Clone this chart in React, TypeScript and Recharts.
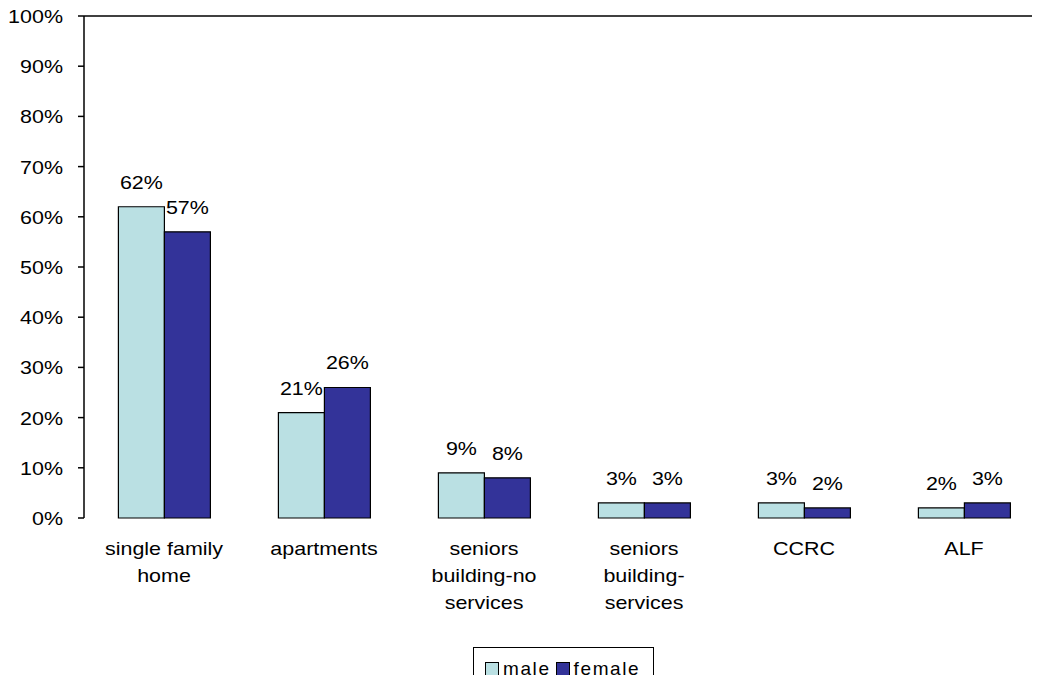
import React from "react";
import { BarChart, Bar, XAxis, YAxis, ReferenceLine, LabelList, Legend } from "recharts";

const categories = [
  "single family home",
  "apartments",
  "seniors building-no services",
  "seniors building-services",
  "CCRC",
  "ALF",
];
const categoryLines = [
  ["single family", "home"],
  ["apartments"],
  ["seniors", "building-no", "services"],
  ["seniors", "building-", "services"],
  ["CCRC"],
  ["ALF"],
];
const male = [62, 21, 9, 3, 3, 2];
const female = [57, 26, 8, 3, 2, 3];
const yTicks = [0, 10, 20, 30, 40, 50, 60, 70, 80, 90, 100];
const boundaryTicks = [0, 1, 2, 3, 4, 5, 6];

const data = categories.map((name, i) => ({ name, male: male[i], female: female[i], idx: i }));

const FONT = "'Liberation Sans', Arial, sans-serif";
const FS = 19;
const SX = 1.13;

const MALE_COLOR = "#BAE0E3";
const FEMALE_COLOR = "#333399";

const StretchText = ({ x, y, anchor, children }: any) => (
  <g transform={`translate(${x},${y}) scale(${SX},1)`}>
    <text x={0} y={0} textAnchor={anchor} fontFamily={FONT} fontSize={FS} fill="#000">
      {children}
    </text>
  </g>
);

const YTick = (props: any) => {
  const { x, y, payload } = props;
  return (
    <StretchText x={x - 13} y={y + 7} anchor="end">
      {payload.value + "%"}
    </StretchText>
  );
};

const XTick = (props: any) => {
  const { x, y, index } = props;
  const lines = categoryLines[index] || [];
  return (
    <g>
      {lines.map((ln, k) => (
        <StretchText key={k} x={x} y={y + 29 + k * 27} anchor="middle">
          {ln}
        </StretchText>
      ))}
    </g>
  );
};

const BarLabel = (props: any) => {
  const { x, y, width, value } = props;
  return (
    <StretchText x={x + width / 2} y={y - 18} anchor="middle">
      {value + "%"}
    </StretchText>
  );
};

const LegendContent = () => (
  <div
    style={{
      border: "1px solid #000",
      width: 179,
      height: 40,
      boxSizing: "content-box",
      fontFamily: FONT,
      fontSize: FS,
      display: "flex",
      alignItems: "flex-start",
      background: "#fff",
    }}
  >
    {[
      { label: "male", color: MALE_COLOR },
      { label: "female", color: FEMALE_COLOR },
    ].map((it, i) => (
      <div
        key={it.label}
        style={{ display: "flex", alignItems: "center", marginLeft: i === 0 ? 11 : 5, marginTop: 10 }}
      >
        <span
          style={{
            display: "inline-block",
            width: 12,
            height: 12,
            border: "1px solid #000",
            background: it.color,
            marginRight: 4,
          }}
        />
        <span style={{ letterSpacing: "1.6px", lineHeight: "22px" }}>{it.label}</span>
      </div>
    ))}
  </div>
);

export default function App() {
  return (
    <div
      style={{
        margin: -8,
        width: 1040,
        height: 683,
        overflow: "hidden",
        position: "relative",
        background: "#fff",
      }}
    >
      <BarChart
        width={1050}
        height={683}
        data={data}
        margin={{ top: 16, right: 6, bottom: 0, left: 0 }}
        barGap={0}
        barCategoryGap="21.5%"
      >
        <XAxis
          xAxisId="grid"
          type="number"
          domain={[0, 6]}
          ticks={boundaryTicks}
          height={0}
          tickSize={6}
          axisLine={{ stroke: "#000", strokeWidth: 1.5 }}
          tickLine={{ stroke: "#000", strokeWidth: 1.5 }}
          tickFormatter={() => ""}
          allowDataOverflow
        />
        <XAxis
          xAxisId="cat"
          dataKey="name"
          height={165}
          axisLine={false}
          tickLine={false}
          tick={<XTick />}
          interval={0}
        />
        <YAxis
          width={84}
          domain={[0, 100]}
          ticks={yTicks}
          interval={0}
          tickSize={6}
          axisLine={{ stroke: "#000", strokeWidth: 1.5 }}
          tickLine={{ stroke: "#000", strokeWidth: 1.5 }}
          tick={<YTick />}
        />
        <ReferenceLine y={100} xAxisId="cat" stroke="#000" strokeWidth={1.5} ifOverflow="visible" />
        <Bar xAxisId="cat" dataKey="male" fill={MALE_COLOR} stroke="#000" strokeWidth={1.2} isAnimationActive={false}>
          <LabelList dataKey="male" content={<BarLabel />} />
        </Bar>
        <Bar xAxisId="cat" dataKey="female" fill={FEMALE_COLOR} stroke="#000" strokeWidth={1.2} isAnimationActive={false}>
          <LabelList dataKey="female" content={<BarLabel />} />
        </Bar>
        <Legend
          layout="vertical"
          align="center"
          verticalAlign="middle"
          content={<LegendContent />}
          wrapperStyle={{ position: "absolute", left: 473, top: 647, width: 181, height: 42 }}
        />
      </BarChart>
    </div>
  );
}
